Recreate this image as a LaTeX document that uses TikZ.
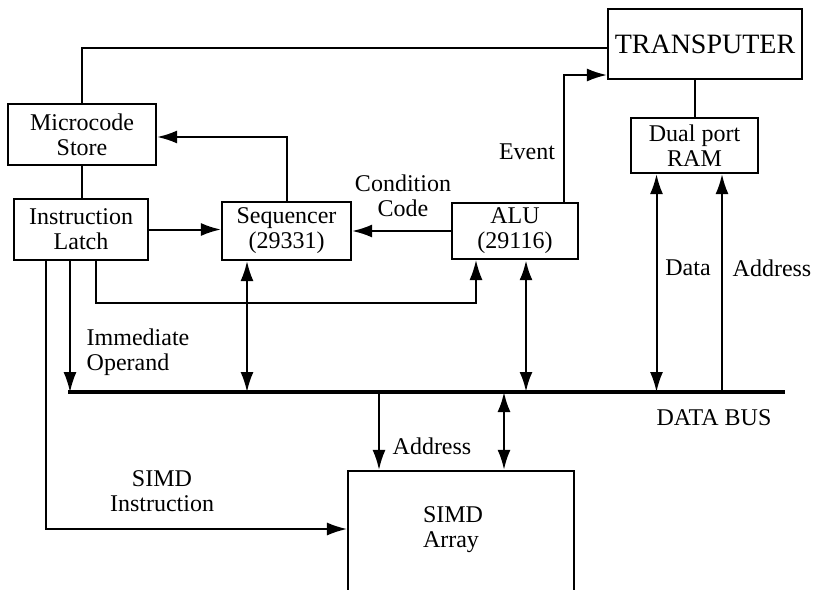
\documentclass[tikz,border=0pt]{standalone}
\usepackage{fontspec}
\setmainfont{Liberation Serif}
\usetikzlibrary{arrows.meta,positioning,calc}

\begin{document}
\begin{tikzpicture}[x=0.5pt,y=-0.5pt,
    every node/.style={font=\fontsize{12}{12.5}\selectfont, align=center, inner sep=0pt},
    block/.style={draw, line width=1.1pt},
    link/.style={line width=1pt},
    thin link/.style={line width=0.75pt},
    bus/.style={line width=2.2pt},
    >={Latex[length=10pt,width=6.5pt]}
]
\clip (0,0) rectangle (813,589);

% boxes
\node[block, minimum width=74pt, minimum height=30.5pt] (micro) at (82,134.5) {Microcode\\Store};
\node[block, minimum width=67pt, minimum height=30.5pt] (latch) at (81,229.5) {Instruction\\Latch};
\node[block, minimum width=64.5pt, minimum height=29pt] (seq) at (286.5,231) {Sequencer\\(29331)};
\node[block, minimum width=63pt, minimum height=28pt] (alu) at (515,231) {ALU\\(29116)};
\node[block, minimum width=97pt, minimum height=35pt, font=\fontsize{14}{15}\selectfont] (trans) at (705,44) {TRANSPUTER};
\node[block, minimum width=63.5pt, minimum height=27.5pt] (ram) at (694.5,145.5) {Dual port\\RAM};
\node[block, minimum width=113pt, minimum height=84.5pt] (simd) at (461,555.5) {};
\node[align=left] (simdtxt) at (453,530) {SIMD\\Array};

% data bus
\coordinate (busL) at (68,392);
\coordinate (busR) at (785,392);
\draw[bus] (busL) -- (busR);
\node (dbus) at (714,418) {DATA BUS};

% control side
\draw[link] (micro.north) |- ([yshift=-2pt]trans.west);
\draw[link] (micro.south) -- (micro.south |- latch.north);
\draw[link,->] (seq.north) |- ([yshift=-1.25pt]micro.east);
\draw[link,->] (latch.east) -- (latch.east -| seq.west);
\draw[link,->] (alu.west) -- (alu.west -| seq.east);
\node (cc) at (403,196) {Condition\\Code};
\draw[link,->] ([xshift=24.5pt]alu.north) |- ([yshift=-15.5pt]trans.west);
\node (ev) at (527,152) {Event};

% transputer side
\draw[link] (ram.north) -- (ram.north |- trans.south);
\draw[link,<->] ([xshift=-19pt]ram.south) -- ([xshift=-19pt]ram.south |- busL);
\draw[link,->] ([xshift=13.75pt]ram.south |- busL) -- ([xshift=13.75pt]ram.south);
\node (dlab) at (688,268) {Data};
\node (alab) at (772,268) {Address};

% latch outputs
\coordinate (opline) at (96,303);
\draw[thin link,->] ([xshift=7.5pt]latch.south) |- ([xshift=-19.5pt]alu.south |- opline) -- ([xshift=-19.5pt]alu.south);
\draw[thin link,->] ([xshift=-5.5pt]latch.south) -- ([xshift=-5.5pt]latch.south |- busL);
\node[align=left] (imm) at (138,352) {Immediate\\Operand};
\draw[thin link,->] ([xshift=-17.5pt]latch.south) |- ([yshift=13.25pt]simd.west);
\node (sins) at (162,491) {SIMD\\Instruction};

% bus taps
\draw[link,<->] ([xshift=-19.75pt]seq.south) -- ([xshift=-19.75pt]seq.south |- busL);
\draw[line width=1.4pt,<->] ([xshift=5.5pt]alu.south) -- ([xshift=5.5pt]alu.south |- busL);
\draw[link,->] ([xshift=-41pt]simd.north |- busL) -- ([xshift=-41pt]simd.north);
\draw[line width=1.2pt,<->] ([xshift=21.5pt]simd.north |- busL) -- ([xshift=21.5pt]simd.north);
\node (aaddr) at (432,446) {Address};
\end{tikzpicture}
\end{document}
